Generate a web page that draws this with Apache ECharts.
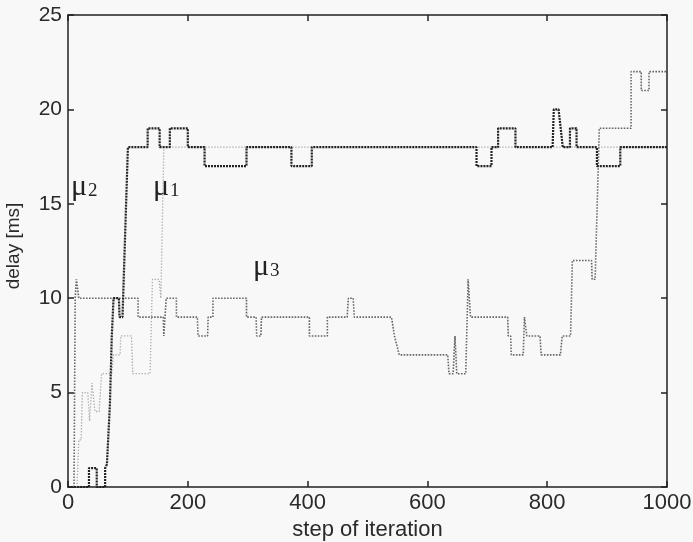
<!DOCTYPE html>
<html><head><meta charset="utf-8">
<script src="https://cdn.jsdelivr.net/npm/echarts@6/dist/echarts.min.js"></script>
<style>html,body{margin:0;padding:0;background:#f8f8f8}#c{width:693px;height:542px}</style>
</head><body><div id="c"></div>
<script>
// x: step of iteration, y: delay [ms]
const xRange = [0, 1000], xStep = 200;
const yRange = [0, 25], yStep = 5;

// mu1 (light gray dotted)
const mu1X = [0,15,18,22,24,33,36,40,45,52,56,73,76,87,88,106,108,137,141,152,155,160,1000];
const mu1Y = [0,0,2.5,2.5,5,5,3.5,5.5,4,4,6,6,7,7,8,8,6,6,11,11,10,18,18];

// mu3 (medium gray dotted)
const mu3X = [0,10,12,14,17,18,117,117,159,160,163,164,181,181,216,217,233,234,242,242,298,298,314,315,322,323,403,403,433,433,466,468,476,478,540,545,548,553,634,636,643,646,649,664,668,670,672,734,735,739,740,760,762,764,766,788,790,822,825,839,842,874,875,880,887,940,940,957,957,970,970,1000];
const mu3Y = [0,0,10,11,11,10,10,9,9,8,8,10,10,9,9,8,8,9,9,10,10,9,9,8,8,9,9,8,8,9,9,10,10,9,9,8,8,7,7,6,6,8,6,6,11,11,9,9,8,8,7,7,9,9,8,8,7,7,8,8,12,12,11,11,19,19,22,22,21,21,22,22];

// mu2 (dark dotted)
const mu2X = [0,35,35,48,48,62,62,65,70,73,76,85,86,91,92,96,100,133,133,153,153,170,170,200,200,228,228,298,298,373,373,407,407,682,682,707,707,718,718,747,747,809,811,819,826,838,838,849,849,883,883,922,922,1000];
const mu2Y = [0,0,1,1,0,0,1,1.2,4.4,7.9,10,10,9,9,10,14,18,18,19,19,18,18,19,19,18,18,17,17,18,18,17,17,18,18,17,17,18,18,19,19,18,18,20,20,18,18,19,19,18,18,17,17,18,18];

const labels = [
  {txt:'μ', sub:'2', x:71, y:172},
  {txt:'μ', sub:'1', x:153, y:172},
  {txt:'μ', sub:'3', x:253, y:252}
];

function pairs(xs, ys){ return xs.map((x,i)=>[x, ys[i]]); }

const chart = echarts.init(document.getElementById('c'), null, {renderer:'canvas'});
const axisLineStyle = {color:'#222', width:1.5};
function xAx(pos, show){
  return {type:'value', min:xRange[0], max:xRange[1], interval:xStep, position:pos,
    axisLine:{show:true, onZero:false, lineStyle:axisLineStyle},
    axisTick:{show:true, inside:true, length:6, lineStyle:axisLineStyle},
    axisLabel:{show:show, color:'#2a2a2a', fontSize:22, fontFamily:'Liberation Sans', margin:5,
      formatter: v => String(v)},
    splitLine:{show:false},
    name: show ? 'step of iteration' : '', nameLocation:'middle', nameGap:24,
    nameTextStyle:{color:'#2a2a2a', fontSize:22, fontFamily:'Liberation Sans'}};
}
function yAx(pos, show){
  return {type:'value', min:yRange[0], max:yRange[1], interval:yStep, position:pos,
    axisLine:{show:true, onZero:false, lineStyle:axisLineStyle},
    axisTick:{show:true, inside:true, length:6, lineStyle:axisLineStyle},
    axisLabel:{show:show, color:'#2a2a2a', fontSize:21, fontFamily:'Liberation Sans', margin:6,
      formatter: v => String(v)},
    splitLine:{show:false},
    name: show ? 'delay [ms]' : '', nameLocation:'middle', nameGap:45,
    nameTextStyle:{color:'#2a2a2a', fontSize:19, fontFamily:'Liberation Sans', padding:[0,0,0,10]}};
}

const graphics = [];
labels.forEach(l=>{
  graphics.push({type:'text', left:l.x, top:l.y, style:{text:l.txt, fontSize:30, fontFamily:'Liberation Serif', fill:'#222'}});
  graphics.push({type:'text', left:l.x+17, top:l.y+10, style:{text:l.sub, fontSize:19, fontFamily:'Liberation Serif', fill:'#222'}});
});

chart.setOption({
  backgroundColor:'#f8f8f8',
  animation:false,
  grid:{left:68, right:26, top:15, bottom:55, outerBoundsMode:'none', containLabel:false},
  xAxis:[xAx('bottom', true), xAx('top', false)],
  yAxis:[yAx('left', true), yAx('right', false)],
  graphic: graphics,
  series:[
    {name:'μ1', type:'line', xAxisIndex:0, yAxisIndex:0, showSymbol:false, symbol:'none',
     lineStyle:{color:'#a8a8a8', width:1.3, type:[1.3,1.7]}, data:pairs(mu1X, mu1Y)},
    {name:'μ3', type:'line', xAxisIndex:0, yAxisIndex:0, showSymbol:false, symbol:'none',
     lineStyle:{color:'#666', width:1.6, type:[1.6,1.4]}, data:pairs(mu3X, mu3Y)},
    {name:'μ2', type:'line', xAxisIndex:0, yAxisIndex:0, showSymbol:false, symbol:'none',
     lineStyle:{color:'#222', width:2.2, type:[2,1]}, data:pairs(mu2X, mu2Y)}
  ]
});
</script></body></html>
